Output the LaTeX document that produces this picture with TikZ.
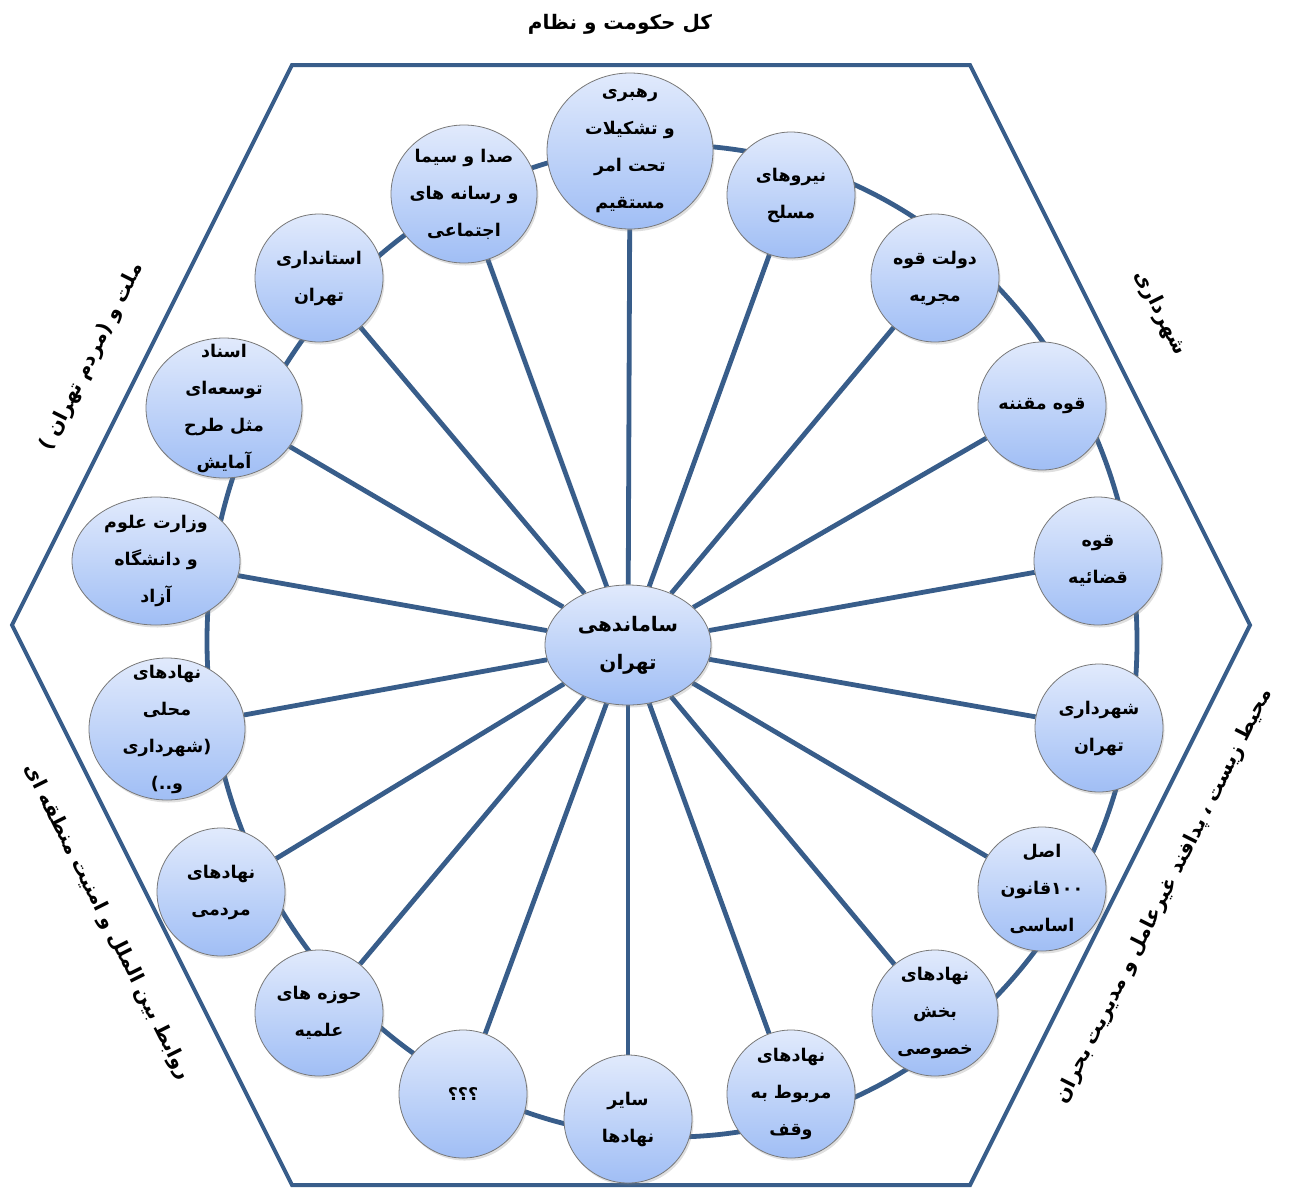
\documentclass[tikz,border=0pt]{standalone}
\usepackage{fontspec}
\usetikzlibrary{shapes.geometric,shadows}
\TeXXeTstate=1
\newfontfamily\fafont[Script=Arabic]{DejaVu Sans}
\newfontfamily\dvs[Script=Latin]{DejaVu Sans}
\newcommand{\RL}[1]{\beginR #1\endR}
\newcommand{\Lt}[1]{\hbox{\dvs #1}}
\definecolor{edgeblue}{RGB}{56,93,138}
\definecolor{topc}{RGB}{225,234,252}
\definecolor{botc}{RGB}{160,190,245}
\definecolor{rim}{RGB}{120,120,120}
\pgfdeclarelayer{bg}
\pgfsetlayers{bg,main}
\newcommand{\bub}[6]{%
  \node[bubble,minimum width={2*#4pt},minimum height={2*#5pt}] (#1) at (#2,#3) {};
  \node[txt] (#1-t) at (#1) {#6};}
\begin{document}
\begin{tikzpicture}[x=1pt,y=-1pt,
  frame/.style={draw=edgeblue,line width=4pt,line join=miter},
  spoke/.style={draw=edgeblue,line width=4.8pt},
  bubble/.style={ellipse,draw=rim,line width=0.8pt,top color=topc,bottom color=botc,inner sep=0pt,
    drop shadow={opacity=0.25,shadow xshift=1.5pt,shadow yshift=-2.5pt}},
  txt/.style={font=\fafont\bfseries\fontsize{17.5}{37}\selectfont,align=center,inner sep=0pt},
  lbl/.style={font=\fafont\bfseries\fontsize{20}{24}\selectfont,inner sep=0pt}]
\useasboundingbox (0,0) rectangle (1293,1187);

\bub{n1}{630}{151}{83}{78}{رهبری\\\RL{و تشکیلات}\\\RL{تحت امر}\\مستقیم}
\bub{n2}{791}{195}{64}{63}{نیروهای\\مسلح}
\bub{n3}{935}{278}{64}{64}{\RL{دولت قوه}\\مجریه}
\bub{n4}{1042}{406}{64}{64}{\RL{قوه مقننه}}
\bub{n5}{1098}{561}{64}{64}{قوه\\قضائیه}
\bub{n6}{1099}{728}{64}{64}{شهرداری\\تهران}
\bub{n7}{1042}{889}{64}{62}{اصل\\\hbox{قانون}\Lt{۱۰۰}\\اساسی}
\bub{n8}{935}{1013}{63}{63}{نهادهای\\بخش\\خصوصی}
\bub{n9}{791}{1094}{64}{64}{نهادهای\\\RL{مربوط به}\\وقف}
\bub{n10}{628}{1119}{64}{64}{سایر\\نهادها}
\bub{n11}{463}{1094}{64}{64}{؟؟؟}
\bub{n12}{319}{1013}{64}{63}{\RL{حوزه های}\\علمیه}
\bub{n13}{221}{892}{64}{64}{نهادهای\\مردمی}
\bub{n14}{167}{729}{78}{71}{نهادهای\\محلی\\\hbox{شهرداری}\Lt{)}\\\Lt{(..}\hbox{و}}
\bub{n15}{156}{561}{84}{64}{\RL{وزارت علوم}\\\RL{و دانشگاه}\\آزاد}
\bub{n16}{224}{408}{78}{70}{اسناد\\توسعه‌ای\\\RL{مثل طرح}\\آمایش}
\bub{n17}{319}{278}{64}{64}{استانداری\\تهران}
\bub{n18}{464}{194}{73}{69}{\RL{صدا و سیما}\\\RL{و رسانه های}\\اجتماعی}
\bub{c}{628}{645}{83}{60}{}
\node[txt,font=\fafont\bfseries\fontsize{20}{38}\selectfont] (c-t2) at (c) {ساماندهی\\تهران};

\node[lbl] (top) at (620,24) {\RL{کل حکومت و نظام}};
\node[lbl,rotate=63.4] (ul) at (92,357) {\Lt{(}\ \hbox{تهران}\ \hbox{مردم}\Lt{)}\ \hbox{و}\ \hbox{ملت}};
\node[lbl,rotate=-63.4] (ur) at (1160,313) {شهرداری};
\node[lbl,rotate=63.4] (lr) at (1164,896) {\RL{محیط زیست ، پدافند غیرعامل و مدیریت بحران}};
\node[lbl,rotate=-63.4] (ll) at (107,922) {\RL{روابط بین الملل و امنیت منطقه ای}};

\begin{pgfonlayer}{bg}
\draw[frame] (292,65) -- (970,65) -- (1250,625) -- (970,1185) -- (292,1185) -- (12,625) -- cycle;
\draw[spoke] (672,641) ellipse [x radius=465pt, y radius=496pt];
\foreach \n in {n1,n2,n3,n4,n5,n6,n7,n8,n9,n10,n11,n12,n13,n14,n15,n16,n17,n18}
  \draw[spoke] (c) -- (\n);
\end{pgfonlayer}
\end{tikzpicture}
\end{document}
